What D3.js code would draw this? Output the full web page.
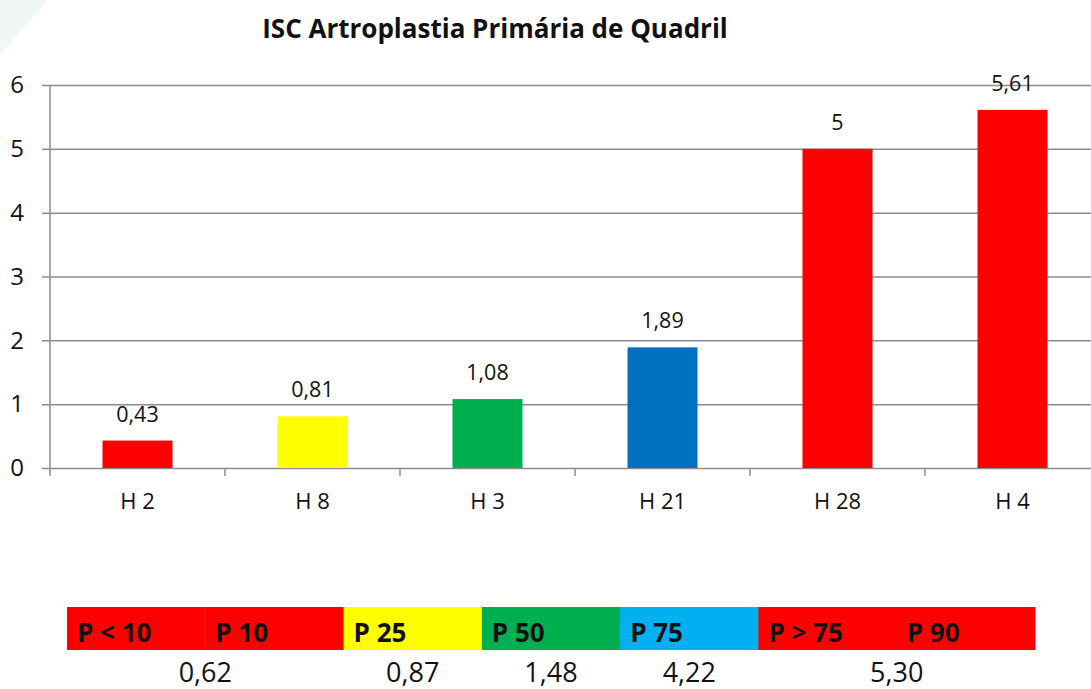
<!DOCTYPE html>
<html>
<head>
<meta charset="utf-8">
<script src="https://cdn.jsdelivr.net/npm/d3@7"></script>
<style>
  body { margin: 0; background: #fff; }
  text { font-family: "Open Sans", sans-serif; }
</style>
</head>
<body>
<svg width="1091" height="689"></svg>
<script>
// chart data
const hospitals = ["H 2", "H 8", "H 3", "H 21", "H 28", "H 4"];
const rates = [0.43, 0.81, 1.08, 1.89, 5, 5.61];
const barColors = ["#ff0000", "#ffff00", "#00b050", "#0070c0", "#ff0000", "#ff0000"];
const yTicks = [0, 1, 2, 3, 4, 5, 6];

// percentile legend
const pLabels = ["P < 10", "P 10", "P 25", "P 50", "P 75", "P > 75", "P 90"];
const pColors = ["#ff0000", "#ff0000", "#ffff00", "#00b050", "#00b0f0", "#ff0000", "#ff0000"];
const pValues = ["0,62", "0,87", "1,48", "4,22", "5,30"];

const fmt = v => String(v).replace(".", ",");

let svg = d3.select("svg");

// faint shape in the top-left corner
svg.append("path")
    .attr("d", "M0,0 L48,0 L0,55 Z")
    .attr("fill", "#f1f8f3");

let title = svg.append("text")
    .attr("x", 495)
    .attr("y", 38)
    .attr("text-anchor", "middle")
    .style("font-weight", "bold")
    .style("font-size", "26px")
    .attr("fill", "#111")
    .text("ISC Artroplastia Primária de Quadril");
// keep it to the width of the original title
let tw = title.node().getComputedTextLength();
if (tw > 468) title.attr("textLength", 468).attr("lengthAdjust", "spacingAndGlyphs");

let xScale = d3.scaleBand()
    .domain(hospitals)
    .range([50, 1100])
    .paddingInner(0.6)
    .paddingOuter(0.3);

let yScale = d3.scaleLinear()
    .domain([0, 6])
    .range([468, 85]);

// gridlines + y axis
let yAxis = d3.axisLeft(yScale)
    .tickValues(yTicks)
    .tickFormat(d3.format("d"))
    .tickSize(-1060)
    .tickSizeOuter(0)
    .tickPadding(26);

let yAxisGroup = svg.append("g")
    .attr("transform", "translate(50,0)")
    .call(yAxis);
yAxisGroup.select(".domain").remove();
yAxisGroup.selectAll("line")
    .attr("x1", -8)
    .attr("stroke", "#8c8c8c")
    .attr("stroke-width", 1.5);
yAxisGroup.selectAll("text")
    .style("font-size", "24px")
    .attr("fill", "#111");

svg.append("line")
    .attr("x1", 50).attr("x2", 50)
    .attr("y1", 85).attr("y2", 476)
    .attr("stroke", "#8c8c8c")
    .attr("stroke-width", 1.5);

// x axis
let xAxis = d3.axisBottom(xScale)
    .tickSize(0)
    .tickPadding(25);
let xAxisGroup = svg.append("g")
    .attr("transform", "translate(0,468)")
    .call(xAxis);
xAxisGroup.select(".domain").remove();
xAxisGroup.selectAll("text")
    .style("font-size", "22px")
    .attr("fill", "#111");

// category separators under the axis
let gap = (xScale.step() - xScale.bandwidth()) / 2;
svg.selectAll(".sep")
    .data(hospitals.slice(1))
    .enter()
    .append("line")
    .attr("class", "sep")
    .attr("x1", d => xScale(d) - gap)
    .attr("x2", d => xScale(d) - gap)
    .attr("y1", 468).attr("y2", 476)
    .attr("stroke", "#8c8c8c")
    .attr("stroke-width", 1.5);

// bars
svg.selectAll(".bar")
    .data(rates)
    .enter()
    .append("rect")
    .attr("class", "bar")
    .attr("x", (d, i) => xScale(hospitals[i]))
    .attr("width", xScale.bandwidth())
    .attr("y", d => yScale(d))
    .attr("height", d => yScale(0) - yScale(d))
    .attr("fill", (d, i) => barColors[i]);

svg.selectAll(".lbl")
    .data(rates)
    .enter()
    .append("text")
    .attr("class", "lbl")
    .attr("x", (d, i) => xScale(hospitals[i]) + xScale.bandwidth() / 2)
    .attr("y", d => yScale(d) - 19)
    .attr("text-anchor", "middle")
    .style("font-size", "21.5px")
    .attr("fill", "#111")
    .text(d => fmt(d));

// percentile strip
let pScale = d3.scaleBand()
    .domain(pLabels)
    .range([67, 1035]);

svg.selectAll(".pseg")
    .data(pLabels)
    .enter()
    .append("rect")
    .attr("class", "pseg")
    .attr("x", d => pScale(d))
    .attr("width", pScale.bandwidth() + 0.5)
    .attr("y", 607)
    .attr("height", 43)
    .attr("fill", (d, i) => pColors[i]);

svg.selectAll(".ptxt")
    .data(pLabels)
    .enter()
    .append("text")
    .attr("class", "ptxt")
    .attr("x", d => pScale(d) + 10)
    .attr("y", 642)
    .style("font-size", "26px")
    .style("font-weight", "bold")
    .attr("fill", "#111")
    .text(d => d);

// where each percentile value sits along the strip (in segment units)
const valueSlots = [1, 2.5, 3.5, 4.5, 6];
let slotScale = d3.scaleLinear().domain([0, 7]).range([67, 1035]);
svg.selectAll(".pval")
    .data(pValues)
    .enter()
    .append("text")
    .attr("class", "pval")
    .attr("x", (d, i) => slotScale(valueSlots[i]))
    .attr("y", 682)
    .attr("text-anchor", "middle")
    .style("font-size", "27px")
    .attr("fill", "#111")
    .text(d => d);
</script>
</body>
</html>
